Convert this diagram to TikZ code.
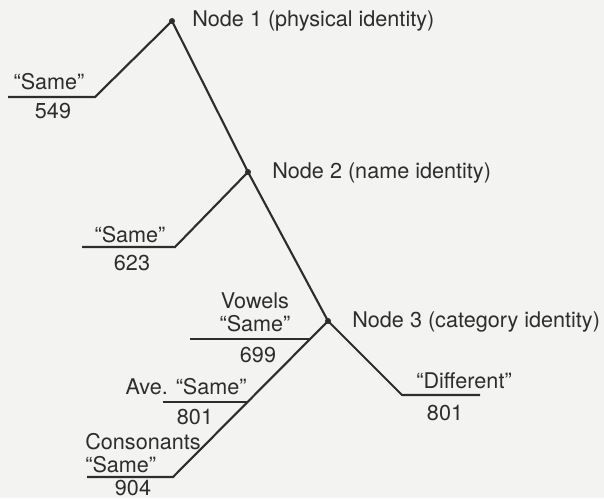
\documentclass[tikz,border=0pt]{standalone}
\usepackage{fontspec}
\setmainfont{TeX Gyre Heros}
\usetikzlibrary{positioning}
\definecolor{inkgray}{RGB}{45, 45, 45}
\definecolor{paperbg}{RGB}{243, 243, 241}

\begin{document}
\begin{tikzpicture}[x=0.02cm, y=-0.02cm,
  treeline/.style={draw=inkgray, line width=1.2pt, line join=miter},
  branchdot/.style={circle, fill=inkgray, inner sep=0pt, minimum size=3.4pt},
  nodelabel/.style={anchor=west, inner sep=0pt, text=inkgray, font=\fontsize{12.3}{14}\selectfont},
  leaftext/.style={inner sep=0pt, text=inkgray, align=center, font=\fontsize{12.3}{13}\selectfont}]
  \fill[paperbg] (0,0) rectangle (604,498);
  \useasboundingbox (0,0) rectangle (604,498);

  % decision points
  \node[branchdot] (n1) at (172,21) {};
  \node[branchdot] (n2) at (248,172) {};
  \node[branchdot] (n3) at (328,321) {};
  \node[nodelabel] (n1lab) at (192,21) {Node 1 (physical identity)};
  \node[nodelabel] (n2lab) at (272,173) {Node 2 (name identity)};
  \node[nodelabel] (n3lab) at (352,322) {Node 3 (category identity)};

  % branch corners and free ends
  \coordinate (same1) at (95,97);   \coordinate (same1end) at (8,97);
  \coordinate (same2) at (175,247); \coordinate (same2end) at (82,247);
  \coordinate (vow) at (310,339);   \coordinate (vowend) at (190,339);
  \coordinate (ave) at (248,402);   \coordinate (aveend) at (163,402);
  \coordinate (cons) at (173,477);  \coordinate (consend) at (87,477);
  \coordinate (diff) at (402,395);  \coordinate (diffend) at (480,395);

  % tree
  \draw[treeline] (n1.center) -- (n2.center) -- (n3.center) -- (diff) -- (diffend);
  \draw[treeline] (same1end) -- (same1) -- (n1.center);
  \draw[treeline] (same2end) -- (same2) -- (n2.center);
  \draw[treeline] (consend) -- (cons) -- (n3.center);
  \draw[treeline] (vowend) -- (vow);
  \draw[treeline] (aveend) -- (ave);

  % responses and times
  \node[leaftext] (same1txt) at (49,82) {``Same''};
  \node[leaftext] (rt549) at (53,111) {549};
  \node[leaftext] (same2txt) at (130,235) {``Same''};
  \node[leaftext] (rt623) at (132,263) {623};
  \node[leaftext] (vowtxt) at (255,312) {Vowels\\``Same''};
  \node[leaftext] (rt699) at (258,355) {699};
  \node[leaftext, anchor=east] (avetxt) at (247,387) {Ave. ``Same''};
  \node[leaftext] (rt801a) at (195,417) {801};
  \node[leaftext, anchor=west, align=left] (constxt) at (85,453) {Consonants\\``Same''};
  \node[leaftext] (rt904) at (133,488) {904};
  \node[leaftext] (difftxt) at (464,381) {``Different''};
  \node[leaftext] (rt801b) at (445,413) {801};
\end{tikzpicture}
\end{document}
